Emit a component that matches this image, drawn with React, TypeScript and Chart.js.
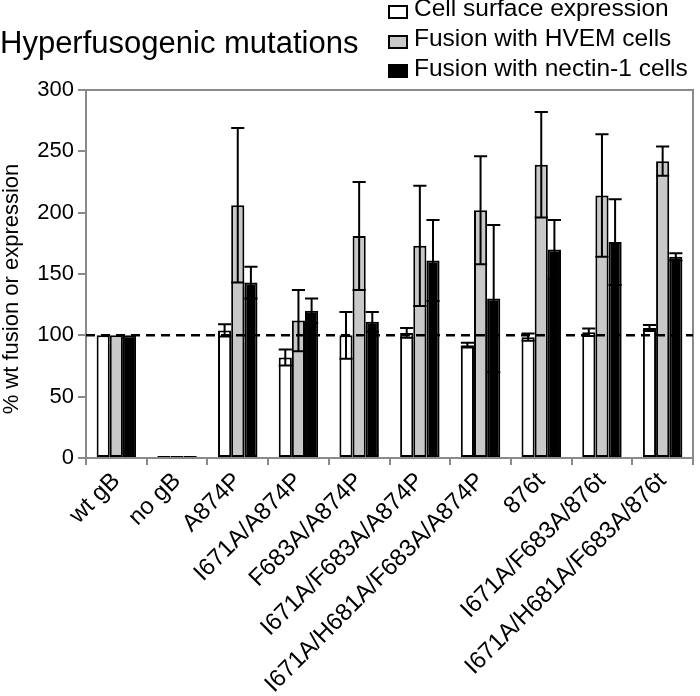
import React, { useEffect, useRef } from "react";
import { Chart, registerables } from "chart.js";

Chart.register(...registerables);

const FONT = "'Liberation Sans', Arial, Helvetica, sans-serif";

const chartTitle = "Hyperfusogenic mutations";
const yAxisTitle = "% wt fusion or expression";

const categories = [
  "wt gB",
  "no gB",
  "A874P",
  "I671A/A874P",
  "F683A/A874P",
  "I671A/F683A/A874P",
  "I671A/H681A/F683A/A874P",
  "876t",
  "I671A/F683A/876t",
  "I671A/H681A/F683A/876t",
];

const seriesNames = [
  "Cell surface expression",
  "Fusion with HVEM cells",
  "Fusion with nectin-1 cells",
];
const seriesColors = ["#ffffff", "#c8c8c8", "#000000"];

const surface = [100, 0, 104, 82, 100, 102, 92, 98.5, 102.5, 106];
const surfaceErr = [0, 0, 5, 6.5, 19, 4, 2, 3, 3, 2.5];
const hvem = [100, 0, 206, 112, 181, 173, 202, 239, 214, 242];
const hvemErr = [0, 0, 63, 25, 44, 49, 44, 43, 50, 12];
const nectin = [100, 0, 143, 120, 111, 161, 130, 170, 176, 164];
const nectinErr = [0, 0, 13, 10, 8, 33, 60, 24, 35, 3];

const yTicks = [0, 50, 100, 150, 200, 250, 300];
const referenceLevel = 100;

const AXIS_GREY = "#8a8a8a";

const plotFrame = {
  id: "plotFrame",
  beforeDatasetsDraw(chart: any) {
    const { ctx, chartArea } = chart;
    ctx.save();
    ctx.strokeStyle = AXIS_GREY;
    ctx.lineWidth = 2;
    ctx.beginPath();
    ctx.moveTo(chartArea.left, chartArea.top);
    ctx.lineTo(chartArea.right, chartArea.top);
    ctx.lineTo(chartArea.right, chartArea.bottom);
    ctx.stroke();
    ctx.restore();
  },
};

const refLine = {
  id: "refLine",
  afterDatasetsDraw(chart: any) {
    const { ctx, chartArea } = chart;
    const y = chart.scales.y.getPixelForValue(referenceLevel);
    ctx.save();
    ctx.strokeStyle = "#000";
    ctx.lineWidth = 2.5;
    ctx.setLineDash([9, 6]);
    ctx.beginPath();
    ctx.moveTo(chartArea.left, y);
    ctx.lineTo(chartArea.right, y);
    ctx.stroke();
    ctx.restore();
  },
};

const errorBars = {
  id: "errorBars",
  afterDatasetsDraw(chart: any) {
    const { ctx } = chart;
    const ys = chart.scales.y;
    chart.data.datasets.forEach((ds: any, i: number) => {
      const meta = chart.getDatasetMeta(i);
      meta.data.forEach((bar: any, j: number) => {
        const e = ds.errors[j];
        if (!e) return;
        const v = ds.data[j];
        const yt = ys.getPixelForValue(v + e);
        const yb = ys.getPixelForValue(v - e);
        const hw = bar.width / 2;
        ctx.save();
        ctx.strokeStyle = "#000";
        ctx.lineWidth = 2;
        ctx.beginPath();
        ctx.moveTo(bar.x, yt);
        ctx.lineTo(bar.x, yb);
        ctx.moveTo(bar.x - hw, yt);
        ctx.lineTo(bar.x + hw, yt);
        ctx.moveTo(bar.x - hw, yb);
        ctx.lineTo(bar.x + hw, yb);
        ctx.stroke();
        ctx.restore();
      });
    });
  },
};

export default function App() {
  const ref = useRef<HTMLCanvasElement>(null);

  useEffect(() => {
    const values = [surface, hvem, nectin];
    const errs = [surfaceErr, hvemErr, nectinErr];
    const chart = new Chart(ref.current as HTMLCanvasElement, {
      type: "bar",
      data: {
        labels: categories,
        datasets: seriesNames.map((name, i) => ({
          label: name,
          data: values[i],
          errors: errs[i],
          backgroundColor: seriesColors[i],
          borderColor: "#000",
          borderWidth: 2,
          borderSkipped: false,
          minBarLength: 2,
          barPercentage: 1,
          categoryPercentage: 0.65,
        })) as any,
      },
      options: {
        animation: false,
        responsive: false,
        devicePixelRatio: 1,
        layout: { padding: { top: 90, right: 7, left: 0, bottom: 0 } },
        plugins: {
          legend: { display: false },
          title: { display: false },
          tooltip: { enabled: false },
        },
        scales: {
          x: {
            type: "category",
            afterFit: (s: any) => {
              s.height = 238;
            },
            grid: {
              display: true,
              drawOnChartArea: false,
              drawTicks: true,
              tickLength: 7,
              color: AXIS_GREY,
              lineWidth: 2,
              offset: true,
            },
            border: { display: true, color: AXIS_GREY, width: 2 },
            ticks: {
              autoSkip: false,
              maxRotation: 45,
              minRotation: 45,
              padding: 2,
              color: "#000",
              font: { family: FONT, size: 24 },
            },
          },
          y: {
            min: 0,
            max: 300,
            afterFit: (s: any) => {
              s.width = 86;
            },
            afterBuildTicks: (s: any) => {
              s.ticks = yTicks.map((v) => ({ value: v }));
            },
            grid: {
              display: true,
              drawOnChartArea: false,
              drawTicks: true,
              tickLength: 8,
              color: AXIS_GREY,
              lineWidth: 2,
            },
            border: { display: true, color: AXIS_GREY, width: 2 },
            ticks: {
              padding: 4,
              color: "#000",
              font: { family: FONT, size: 22 },
            },
          },
        },
      },
      plugins: [plotFrame, refLine, errorBars],
    } as any);
    return () => chart.destroy();
  }, []);

  return (
    <div
      style={{
        position: "fixed",
        left: 0,
        top: 0,
        width: 700,
        height: 696,
        background: "#fff",
        fontFamily: FONT,
        color: "#000",
        overflow: "hidden",
      }}
    >
      <canvas
        ref={ref}
        width={700}
        height={696}
        style={{ position: "absolute", left: 0, top: 0, width: 700, height: 696 }}
      />
      <div
        style={{
          position: "absolute",
          left: 0,
          top: 27,
          fontSize: 31,
          lineHeight: "31px",
          whiteSpace: "nowrap",
        }}
      >
        {chartTitle}
      </div>
      <div
        style={{
          position: "absolute",
          left: 11 - 160,
          top: 289 - 12,
          width: 320,
          height: 24,
          lineHeight: "24px",
          fontSize: 22,
          textAlign: "center",
          whiteSpace: "nowrap",
          transform: "rotate(-90deg)",
          transformOrigin: "50% 50%",
        }}
      >
        {yAxisTitle}
      </div>
      {seriesNames.map((name, i) => (
        <React.Fragment key={name}>
          <div
            style={{
              position: "absolute",
              left: 388,
              top: 5 + i * 29.5,
              width: 20,
              height: 14,
              boxSizing: "border-box",
              border: "2px solid #000",
              background: seriesColors[i],
            }}
          />
          <div
            style={{
              position: "absolute",
              left: 414,
              top: -4 + i * 30.2,
              fontSize: 24.5,
              lineHeight: "24.5px",
              whiteSpace: "nowrap",
            }}
          >
            {name}
          </div>
        </React.Fragment>
      ))}
    </div>
  );
}
